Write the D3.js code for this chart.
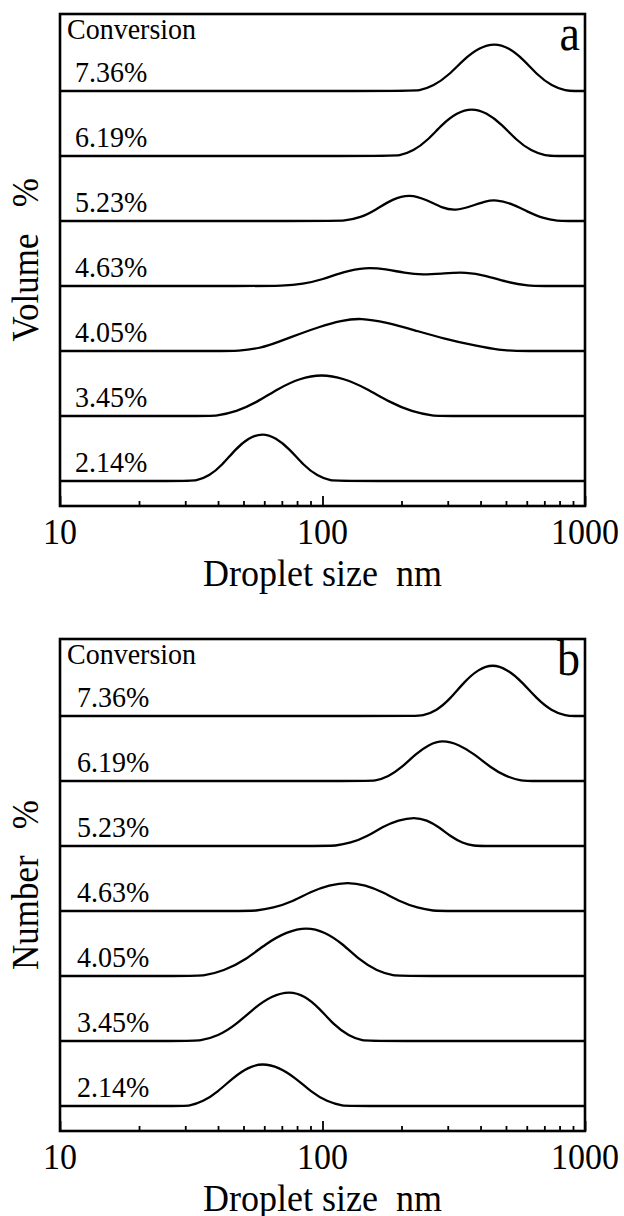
<!DOCTYPE html>
<html>
<head>
<meta charset="utf-8">
<script src="https://cdn.jsdelivr.net/npm/d3@7"></script>
<style>
  body { margin: 0; background: #fff; }
  text { font-family: "Liberation Serif", "Times New Roman", serif; fill: #000; }
</style>
</head>
<body>
<svg id="chart" width="624" height="1216"></svg>
<script>
// conversion labels, top strip to bottom strip
const conversions = ['7.36%', '6.19%', '5.23%', '4.63%', '4.05%', '3.45%', '2.14%'];
const sizeTicks = [10, 100, 1000];

// volume distributions [droplet size nm, volume %]
const volume736 = [[10,0],[214,0],[232,0],[265,1.5],[303,4.9],[346,9.8],[395,13.3],[452,14.8],[513,13.3],[581,9.8],[659,4.9],[747,1.5],[847,0],[915,0],[1000,0]];
const volume619 = [[10,0],[180,0],[195,0],[222,1.5],[252,4.9],[286,9.8],[325,13.3],[370,14.8],[422,13.3],[481,9.8],[547,4.9],[624,1.5],[711,0],[768,0],[1000,0]];
const volume523 = [[10,0],[110,0],[120,0],[140,1.0],[160,3.5],[185,6.8],[215,8.3],[250,6.5],[285,4.0],[321,3.1],[370,4.6],[420,6.2],[459,6.5],[520,5.5],[600,3.0],[690,0.8],[791,0],[855,0],[1000,0]];
const volume463 = [[10,0],[62,0],[68,0],[85,0.6],[100,2.0],[120,4.3],[145,5.8],[175,5.2],[205,4.0],[241,3.4],[290,3.9],[353,4.3],[420,3.2],[500,1.2],[618,0],[668,0],[1000,0]];
const volume405 = [[10,0],[43,0],[47,0],[58,0.8],[68,2.8],[82,5.3],[97,7.4],[118,9.4],[140,10.2],[175,8.8],[224,6.4],[290,3.8],[393,1.4],[470,0.3],[557,0],[602,0],[1000,0]];
const volume345 = [[10,0],[36,0],[39,0],[47,1.3],[56.5,4.3],[68,8.5],[82,11.6],[99,12.9],[120.5,11.6],[147,8.5],[179.5,4.3],[219,1.3],[267,0],[288,0],[1000,0]];
const volume214 = [[10,0],[30,0],[33,0],[37,1.5],[41.5,4.9],[46.6,9.8],[52.4,13.3],[59,14.8],[66.4,13.3],[75,9.8],[84.5,4.9],[95.5,1.5],[108,0],[117,0],[1000,0]];

// number distributions [droplet size nm, number %]
const number736 = [[10,0],[221,0],[240,0],[272,1.6],[307,5.3],[347,10.6],[393,14.4],[444,16],[505,14.4],[574,10.6],[655,5.3],[745,1.6],[847,0],[915,0],[1000,0]];
const number619 = [[10,0],[145,0],[158,0],[178,1.3],[201,4.2],[226,8.3],[255,11.3],[286,12.6],[330,11.3],[379,8.3],[436,4.2],[501,1.3],[577,0],[623,0],[1000,0]];
const number523 = [[10,0],[102,0],[111,0],[128,0.9],[148,2.9],[169,5.9],[195,8.0],[224,8.9],[249.5,8.0],[277,5.9],[308,2.9],[341,0.9],[379,0],[409,0],[1000,0]];
const number463 = [[10,0],[51,0],[55,0],[65,0.9],[77,2.9],[90,5.9],[106,8.0],[125,8.9],[145.5,8.0],[169,5.9],[197,2.9],[230,0.9],[267,0],[288,0],[1000,0]];
const number405 = [[10,0],[32,0],[35,0],[42,1.5],[51,5.0],[61,10.0],[73,13.6],[87,15.1],[102,13.6],[119,10.0],[138,5.0],[161,1.5],[188,0],[203,0],[1000,0]];
const number345 = [[10,0],[31,0],[34,0],[40,1.5],[47,5.1],[55,10.2],[64,13.9],[75,15.4],[85.5,13.9],[97,10.2],[110,5.1],[126,1.5],[143,0],[154,0],[1000,0]];
const number214 = [[10,0],[28.5,0],[31,0],[35,1.3],[40,4.4],[45.6,8.7],[52,11.9],[59,13.2],[68.4,11.9],[78.7,8.7],[90.4,4.4],[104,1.3],[120,0],[130,0],[1000,0]];

const volumeCurves = [volume736, volume619, volume523, volume463, volume405, volume345, volume214];
const numberCurves = [number736, number619, number523, number463, number405, number345, number214];

const left = 60, right = 585, frameH = 492;
const stretch = 1.08; // glyphs in the original are a bit taller than Liberation Serif

const xScale = d3.scaleLog().domain([10, 1000]).range([left, right]);
// strip index -> baseline, relative to frame top
const stripScale = d3.scaleLinear().domain([0, conversions.length - 1]).range([77, 467]);
// value -> height above baseline
const hScale = d3.scaleLinear().domain([0, 20]).range([0, 65]);

const svg = d3.select('#chart');

// text stretched vertically around its baseline
const addText = (g, x, y, str, size, anchor) => {
    return g.append('text')
        .attr('transform', `translate(${x},${y}) scale(1,${stretch})`)
        .attr('text-anchor', anchor || 'start')
        .style('font-size', size + 'px')
        .style('white-space', 'pre')
        .text(str);
};

const drawPanel = (top, curves, yTitle, letter, labelX) => {
    const g = svg.append('g').attr('transform', `translate(0,${top})`);

    // curves (each one carries its own baseline)
    curves.forEach((data, i) => {
        const base = stripScale(i);
        const line = d3.line()
            .x(d => xScale(d[0]))
            .y(d => base - hScale(d[1]))
            .curve(d3.curveBasis);
        g.append('path')
            .datum(data)
            .attr('d', line)
            .attr('fill', 'none')
            .attr('stroke', '#000')
            .attr('stroke-width', 2.3);

        addText(g, labelX, base - 9, conversions[i], 28);
    });

    // bottom axis, ticks pointing inward
    const axis = d3.axisBottom(xScale)
        .tickSizeInner(-5)
        .tickSizeOuter(0)
        .tickFormat('');
    const ax = g.append('g')
        .attr('transform', `translate(0,${frameH})`)
        .call(axis);
    ax.select('.domain').remove();
    ax.selectAll('.tick line')
        .attr('stroke', '#000')
        .attr('stroke-width', 1.8)
        .attr('y2', d => sizeTicks.includes(d) ? -10 : -5);

    sizeTicks.forEach(d => addText(g, xScale(d), frameH + 38, String(d), 34, 'middle'));

    // frame
    g.append('rect')
        .attr('x', left)
        .attr('y', 0)
        .attr('width', right - left)
        .attr('height', frameH)
        .attr('fill', 'none')
        .attr('stroke', '#000')
        .attr('stroke-width', 2.6);

    addText(g, 67, 25, 'Conversion', 28);
    addText(g, 580, 36, letter, 46, 'end');
    addText(g, (left + right) / 2, frameH + 80, 'Droplet size  nm', 36, 'middle');

    g.append('text')
        .attr('transform', `translate(38,${frameH / 2}) rotate(-90) scale(1,${stretch})`)
        .attr('text-anchor', 'middle')
        .style('font-size', '35px')
        .style('white-space', 'pre')
        .text(yTitle);
};

drawPanel(14, volumeCurves, 'Volume   %', 'a', 75);
drawPanel(639, numberCurves, 'Number   %', 'b', 77);
</script>
</body>
</html>
